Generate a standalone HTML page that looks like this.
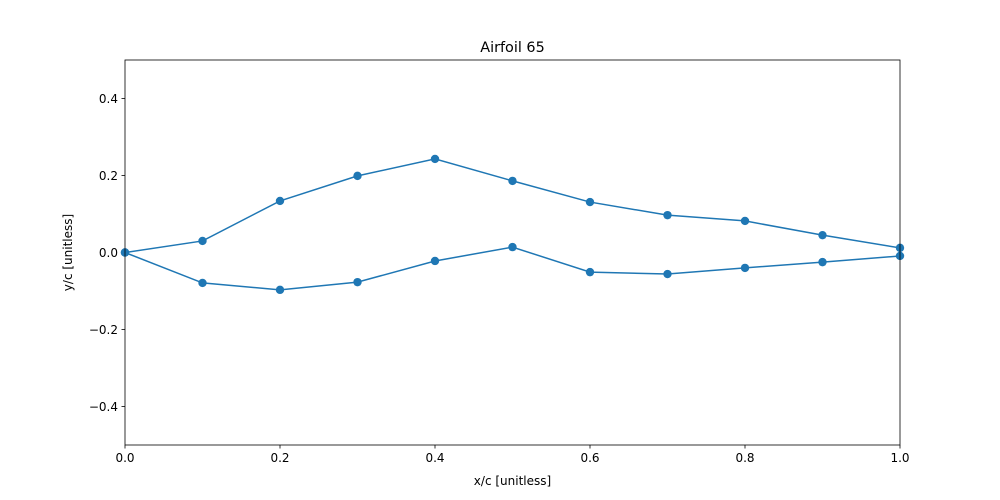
<!DOCTYPE html>
<html><head><meta charset="utf-8"><style>body{margin:0;background:#fff}svg{display:block;font-family:"DejaVu Sans","Liberation Sans",sans-serif}</style></head>
<body>
<svg id="chart" width="1000" height="500" xmlns="http://www.w3.org/2000/svg">
<rect width="1000" height="500" fill="#fff"/>
<text x="512.5" y="52" font-size="14.4" text-anchor="middle">Airfoil 65</text>
<g id="axes"></g>
<g id="marks"></g>
<text x="512.5" y="485" font-size="12" text-anchor="middle">x/c [unitless]</text>
<text transform="translate(72,252.5) rotate(-90)" font-size="12" text-anchor="middle">y/c [unitless]</text>
</svg>
<script>
const xValues=[0,0.1,0.2,0.3,0.4,0.5,0.6,0.7,0.8,0.9,1.0];
const upperY=[0,0.030,0.134,0.199,0.243,0.186,0.131,0.097,0.082,0.045,0.012];
const lowerY=[0,-0.079,-0.097,-0.077,-0.022,0.014,-0.051,-0.056,-0.040,-0.025,-0.009];
const xTicks=[0,0.2,0.4,0.6,0.8,1.0];
const xTickLabels=["0.0","0.2","0.4","0.6","0.8","1.0"];
const yTicks=[-0.4,-0.2,0,0.2,0.4];
const yTickLabels=["\u22120.4","\u22120.2","0.0","0.2","0.4"];
const L=125,R=900,T=60,B=445;
const sx=v=>L+v*(R-L);
const sy=v=>T+(0.5-v)*(B-T);
const NS="http://www.w3.org/2000/svg";
function mk(tag,attrs,parent){const e=document.createElementNS(NS,tag);for(const k in attrs)e.setAttribute(k,attrs[k]);parent.appendChild(e);return e;}
const axes=document.getElementById('axes'),marks=document.getElementById('marks');
xTicks.forEach((v,i)=>{
 const t=mk('line',{x1:sx(v),x2:sx(v),y1:B,y2:B+3.5,stroke:'#000','stroke-width':0.8},axes);
 
 
 const l=mk('text',{x:sx(v),y:B+17,'font-size':12,'text-anchor':'middle'},axes);l.textContent=xTickLabels[i];
 
 
});
yTicks.forEach((v,i)=>{
 const t=mk('line',{x1:L-3.5,x2:L,y1:sy(v),y2:sy(v),stroke:'#000','stroke-width':0.8},axes);
 
 
 const l=mk('text',{x:L-7,y:sy(v)+4.5,'font-size':12,'text-anchor':'end'},axes);l.textContent=yTickLabels[i];
 
 
});
[[upperY,'upper-surface'],[lowerY,'lower-surface']].forEach(([ys,name])=>{
 const p=mk('polyline',{points:xValues.map((x,i)=>sx(x)+','+sy(ys[i])).join(' '),fill:'none',stroke:'#1f77b4','stroke-width':1.5},marks);
 
 
 xValues.forEach((x,i)=>{
  const c=mk('circle',{cx:sx(x),cy:sy(ys[i]),r:4.2,fill:'#1f77b4'},marks);
  
  
 });
});
const f=mk('rect',{x:L,y:T,width:R-L,height:B-T,fill:'none',stroke:'#000','stroke-width':0.8},document.getElementById('chart'));


</script>
</body></html>
